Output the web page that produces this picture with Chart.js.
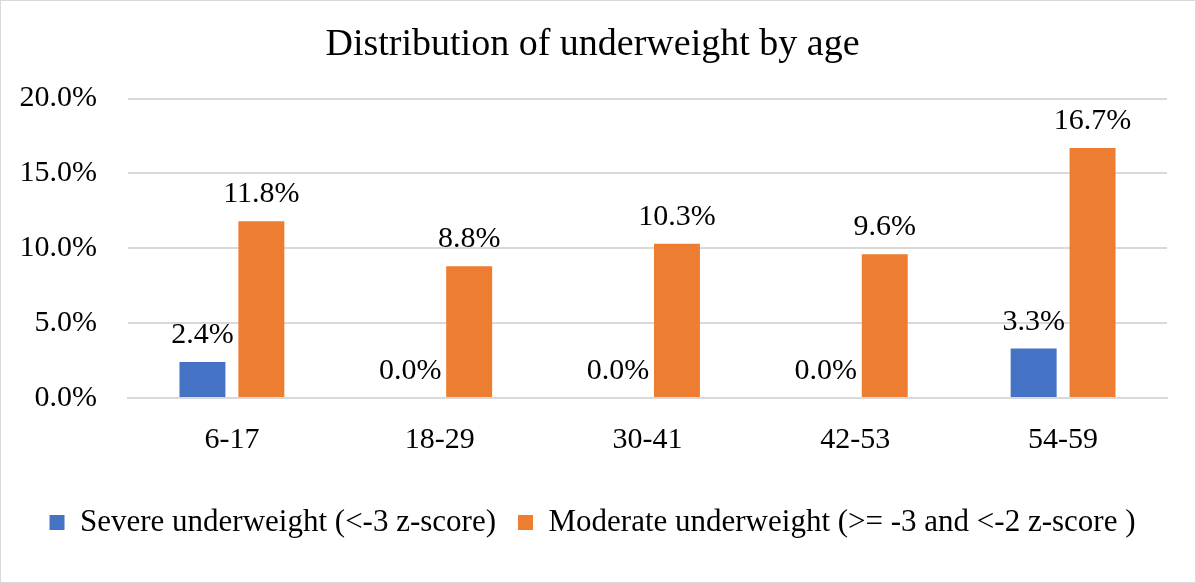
<!DOCTYPE html>
<html>
<head>
<meta charset="utf-8">
<script src="https://cdn.jsdelivr.net/npm/chart.js@4/dist/chart.umd.min.js"></script>
<style>
  html, body { margin: 0; padding: 0; background: #fff; }
  #wrap { width: 1196px; height: 583px; position: relative; }
</style>
</head>
<body>
<div id="wrap"><canvas id="chart"></canvas></div>
<script>
// Chart data
const ageGroups = ['6-17', '18-29', '30-41', '42-53', '54-59'];
const severeValues = [2.4, 0.0, 0.0, 0.0, 3.3];
const moderateValues = [11.8, 8.8, 10.3, 9.6, 16.7];
const yTicks = [0, 5, 10, 15, 20];

const FONT = '"Liberation Serif", "Times New Roman", serif';

// white background + thin grey frame like the Excel chart area
const framePlugin = {
    id: 'frame',
    beforeDraw(chart) {
        const ctx = chart.ctx;
        ctx.save();
        ctx.fillStyle = '#fff';
        ctx.fillRect(0, 0, chart.width, chart.height);
        ctx.strokeStyle = '#d9d9d9';
        ctx.lineWidth = 1;
        ctx.strokeRect(0.5, 0.5, chart.width - 1, chart.height - 1);
        ctx.restore();
    }
};

// value labels above each bar
const valueLabels = {
    id: 'valueLabels',
    afterDatasetsDraw(chart) {
        const ctx = chart.ctx;
        ctx.save();
        ctx.font = '30px ' + FONT;
        ctx.fillStyle = '#000';
        ctx.textAlign = 'center';
        ctx.textBaseline = 'alphabetic';
        chart.data.datasets.forEach((ds, i) => {
            chart.getDatasetMeta(i).data.forEach((bar, j) => {
                ctx.fillText(ds.data[j].toFixed(1) + '%', bar.x, bar.y - 19);
            });
        });
        ctx.restore();
    }
};

new Chart(document.getElementById('chart'), {
    type: 'bar',
    data: {
        labels: ageGroups,
        datasets: [
            {
                label: 'Severe underweight (<-3 z-score)',
                data: severeValues,
                backgroundColor: '#4472C4',
            },
            {
                label: 'Moderate underweight (>= -3 and <-2 z-score )',
                data: moderateValues,
                backgroundColor: '#ED7D31',
            },
        ]
    },
    options: {
        responsive: true,
        maintainAspectRatio: false,
        animation: false,
        categoryPercentage: 0.567,
        barPercentage: 0.78,
        layout: {
            padding: { left: 18, right: 29, top: 0, bottom: 35 }
        },
        plugins: {
            title: {
                display: true,
                text: 'Distribution of underweight by age',
                color: '#000',
                font: { family: FONT, size: 38, weight: 'normal' },
                padding: { top: 22, bottom: 31 }
            },
            legend: {
                display: true,
                position: 'bottom',
                labels: {
                    color: '#000',
                    font: { family: FONT, size: 31 },
                    boxWidth: 15,
                    boxHeight: 15,
                    padding: 22
                }
            },
            tooltip: { enabled: false }
        },
        scales: {
            y: {
                min: 0,
                max: 20,
                afterBuildTicks: (scale) => {
                    scale.ticks = yTicks.map(v => ({ value: v }));
                },
                afterFit: (scale) => { scale.width = 110; },
                ticks: {
                    color: '#000',
                    font: { family: FONT, size: 30 },
                    padding: 31,
                    callback: (v) => v.toFixed(1) + '%'
                },
                grid: {
                    color: '#d9d9d9',
                    lineWidth: 2,
                    drawTicks: false
                },
                border: { display: false }
            },
            x: {
                afterFit: (scale) => { scale.height += 3; },
                ticks: {
                    color: '#000',
                    font: { family: FONT, size: 30 },
                    padding: 24
                },
                grid: { display: false, drawTicks: false },
                border: { display: true, color: '#d9d9d9', width: 2 }
            }
        }
    },
    plugins: [framePlugin, valueLabels]
});
</script>
</body>
</html>
